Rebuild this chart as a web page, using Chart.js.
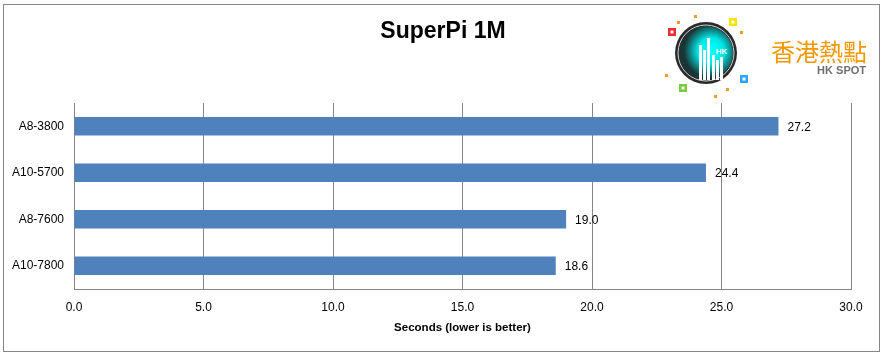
<!DOCTYPE html>
<html>
<head>
<meta charset="utf-8">
<script src="https://cdn.jsdelivr.net/npm/chart.js@4/dist/chart.umd.min.js"></script>
<style>
html,body{margin:0;padding:0;background:#fff;}
#wrap{width:886px;height:356px;position:relative;}
</style>
</head>
<body>
<div id="wrap"><canvas id="c" width="886" height="356"></canvas></div>
<script>
const categories = ["A8-3800", "A10-5700", "A8-7600", "A10-7800"];
const seconds = [27.2, 24.4, 19.0, 18.6];
const chartTitle = "SuperPi 1M";
const axisTitle = "Seconds (lower is better)";
const logoCn = "香港熱點";
const logoEn = "HK SPOT";

const FONT = "'Liberation Sans', Arial, sans-serif";

const framePlugin = {
  id: 'frame',
  beforeDraw(chart) {
    const ctx = chart.ctx;
    ctx.save();
    ctx.fillStyle = '#fff';
    ctx.fillRect(0, 0, chart.width, chart.height);
    ctx.strokeStyle = '#868686';
    ctx.lineWidth = 1;
    ctx.strokeRect(3.5, 4.5, 876, 347);
    ctx.restore();
  }
};

const labelPlugin = {
  id: 'vals',
  afterDatasetsDraw(chart) {
    const ctx = chart.ctx;
    const meta = chart.getDatasetMeta(0);
    ctx.save();
    ctx.font = '12px ' + FONT;
    ctx.fillStyle = '#000';
    ctx.textBaseline = 'middle';
    ctx.textAlign = 'left';
    meta.data.forEach((bar, i) => {
      ctx.fillText(seconds[i].toFixed(1), bar.x + 9, bar.y + 1);
    });
    ctx.restore();
  }
};

const logoPlugin = {
  id: 'logo',
  afterDraw(chart) {
    const ctx = chart.ctx;
    ctx.save();
    const cx = 706, cy = 53, r = 31;
    ctx.beginPath();
    ctx.arc(cx, cy, r, 0, Math.PI * 2);
    ctx.fillStyle = '#2a2a2a';
    ctx.fill();
    ctx.beginPath();
    ctx.arc(cx, cy, r - 3, 0, Math.PI * 2);
    ctx.strokeStyle = '#cfcfcf';
    ctx.lineWidth = 1;
    ctx.stroke();
    const g = ctx.createRadialGradient(cx + 5, cy - 2, 2, cx + 5, cy - 2, 27);
    g.addColorStop(0, '#00ffff');
    g.addColorStop(0.45, '#00e5e5');
    g.addColorStop(1, '#1a3535');
    ctx.beginPath();
    ctx.arc(cx, cy, r - 4, 0, Math.PI * 2);
    ctx.fillStyle = g;
    ctx.fill();
    ctx.fillStyle = '#ffffff';
    const blds = [[699, 45, 3], [703, 50, 3], [707, 38, 3], [712, 55, 3], [716, 60, 3], [720, 57, 3]];
    blds.forEach(b => ctx.fillRect(b[0], b[1], b[2], 80 - b[1]));
    ctx.font = 'bold 8px ' + FONT;
    ctx.fillText('HK', 716, 54);
    const sq = [[672, 32, '#ee2a2a'], [733, 22, '#f5e500'], [744, 79, '#2fa4ff'], [683, 88, '#7ac943']];
    sq.forEach(s => {
      ctx.fillStyle = s[2];
      ctx.fillRect(s[0] - 4, s[1] - 4, 8, 8);
      ctx.fillStyle = '#fff';
      ctx.fillRect(s[0] - 1.5, s[1] - 1.5, 3, 3);
    });
    ctx.fillStyle = '#f39a2b';
    [[695, 16], [678, 22], [741, 32], [666, 75], [727, 89], [715, 96]].forEach(d => {
      ctx.fillRect(d[0] - 1, d[1] - 1, 3, 3);
    });
    ctx.fillStyle = '#f39800';
    ctx.font = '24px "Noto Sans CJK TC", sans-serif';
    ctx.textAlign = 'right';
    ctx.textBaseline = 'middle';
    ctx.fillText(logoCn, 867, 52);
    ctx.fillStyle = '#6e6e6e';
    ctx.font = 'bold 11px ' + FONT;
    ctx.fillText(logoEn, 866, 71);
    ctx.restore();
  }
};

new Chart(document.getElementById('c'), {
  type: 'bar',
  data: {
    labels: categories,
    datasets: [{
      data: seconds,
      backgroundColor: '#4f81bd',
      borderWidth: 0,
      categoryPercentage: 0.4,
      barPercentage: 1.0
    }]
  },
  options: {
    indexAxis: 'y',
    responsive: false,
    animation: false,
    devicePixelRatio: 1,
    layout: { padding: { left: 0, right: 0, top: 0, bottom: 21 } },
    plugins: {
      legend: { display: false },
      tooltip: { enabled: false },
      title: {
        display: true,
        text: chartTitle,
        color: '#000',
        font: { family: FONT, size: 23, weight: 'bold' },
        padding: { top: 18, bottom: 57.4 }
      }
    },
    scales: {
      x: {
        min: 0, max: 30,
        ticks: {
          stepSize: 5,
          color: '#000',
          font: { family: FONT, size: 12 },
          padding: 11,
          callback: v => Number(v).toFixed(1)
        },
        grid: { color: '#868686', drawTicks: false },
        border: { color: '#868686' },
        title: {
          display: true,
          text: axisTitle,
          color: '#000',
          font: { family: FONT, size: 11.5, weight: 'bold' },
          padding: { top: 5, bottom: 0 }
        },
        afterFit(scale) { scale.height = 46; }
      },
      y: {
        ticks: {
          color: '#000',
          font: { family: FONT, size: 12 },
          padding: 10
        },
        grid: { display: false, drawTicks: false },
        border: { color: '#868686' },
        afterFit(scale) { scale.width = 74; }
      },
      yPad: {
        type: 'category',
        position: 'right',
        display: true,
        ticks: { display: false },
        grid: { display: false, drawTicks: false },
        border: { display: false },
        afterFit(scale) { scale.width = 35; }
      }
    }
  },
  plugins: [framePlugin, labelPlugin, logoPlugin]
});
</script>
</body>
</html>
